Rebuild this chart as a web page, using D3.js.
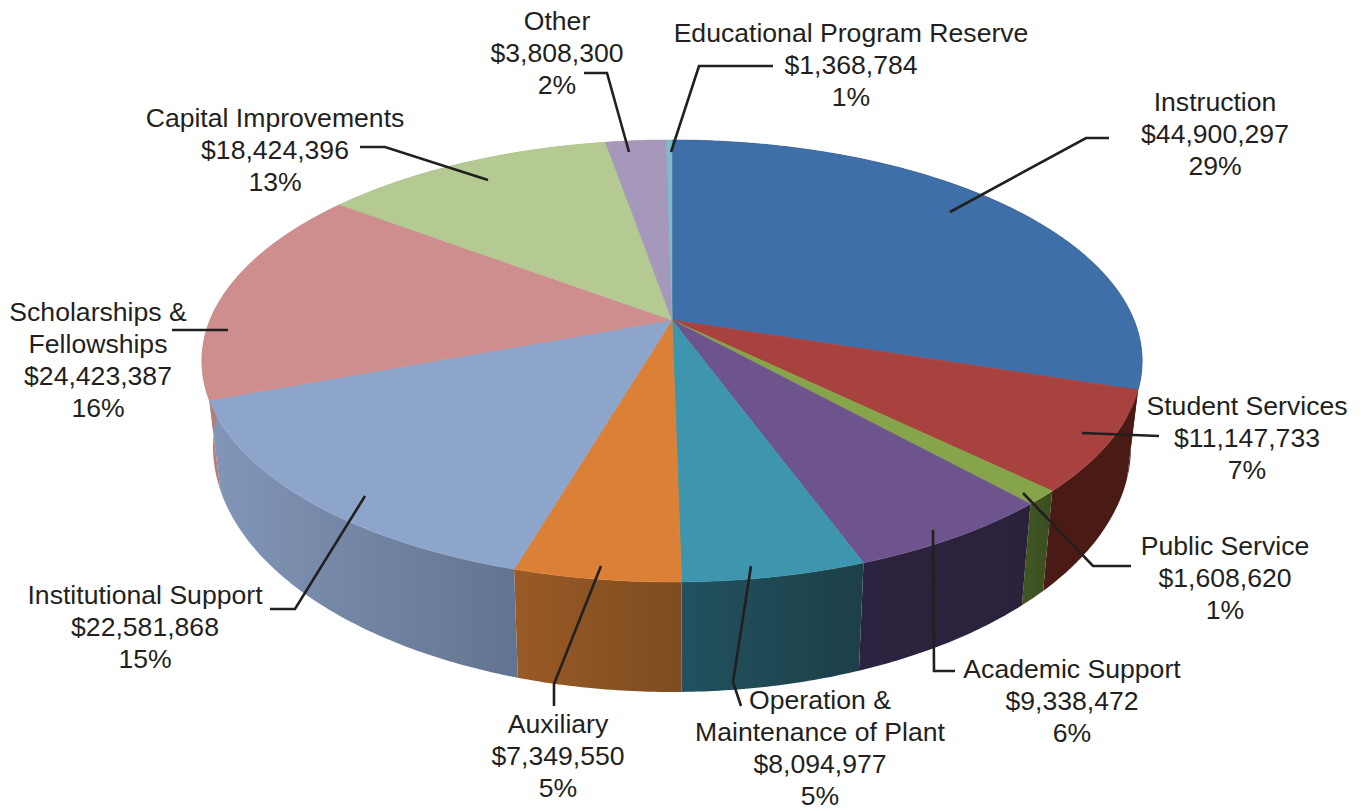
<!DOCTYPE html>
<html>
<head>
<meta charset="utf-8">
<script src="https://cdn.jsdelivr.net/npm/d3@7"></script>
<style>
  html, body { margin: 0; background: #fff; }
  text { font-family: "Liberation Sans", Arial, sans-serif; font-size: 26.6px; fill: #231f20; text-anchor: middle; }
</style>
</head>
<body>
<div id="chart"></div>
<script>
var names = ["Instruction", "Student Services", "Public Service", "Academic Support",
    "Operation & Maintenance of Plant", "Auxiliary", "Institutional Support",
    "Scholarships & Fellowships", "Capital Improvements", "Other", "Educational Program Reserve"]
var amounts = [44900297, 11147733, 1608620, 9338472, 8094977, 7349550, 22581868, 24423387, 18424396, 3808300, 1368784]
var percents = ["29%", "7%", "1%", "6%", "5%", "5%", "15%", "16%", "13%", "2%", "1%"]
// slice sizes as drawn in the picture: the reserve sliver is thinner than its label says
// and Instruction takes up the difference, the rest equal the labels
var drawnAmounts = [45920000, 11147733, 1608620, 9338472, 8094977, 7349550, 22581868, 24423387, 18424396, 3808300, 349000]

var topColors = ["#3f6fa8", "#a8423f", "#86a44a", "#6e548d", "#3d96ae", "#da8137", "#8ea5cb", "#ce8e8d", "#b5ca92", "#a598bb", "#7fb9cb"]
// Instruction's wall only peeks out past the Student Services wall, so it gets the same dark red
var sideLeft = ["#4a1a14", "#4a1a14", "#3f5522", "#2c2340", "#21525f", "#9a5a26", "#8296b8", "#b87a76", "#8a9a6f", "#7d7390", "#5f8c9a"]
var sideRight = ["#4a1a14", "#4a1a14", "#3a4d20", "#2a213a", "#1d3f49", "#7c4c20", "#62748f", "#b87a76", "#8a9a6f", "#7d7390", "#5f8c9a"]

// text lines and where each label goes, leader goes from the slice out to the label
var labelLines = [
    ["Instruction"], ["Student Services"], ["Public Service"], ["Academic Support"],
    ["Operation &", "Maintenance of Plant"], ["Auxiliary"], ["Institutional Support"],
    ["Scholarships &", "Fellowships"], ["Capital Improvements"], ["Other"], ["Educational Program Reserve"]
]
var labelPos = [[1215, 111], [1247, 415], [1225, 555], [1072, 678], [820, 709], [558, 733], [145, 604], [98, 321], [275, 127], [557, 30], [851, 42]]
var leaders = [
    [[950, 212], [1086, 138], [1109, 138]],
    [[1082, 433], [1159, 436]],
    [[1023, 493], [1093, 566], [1131, 566]],
    [[933, 530], [934, 671], [955, 671]],
    [[751, 566], [733, 682], [741, 706]],
    [[601, 566], [554, 684], [554, 706]],
    [[365, 496], [295, 609], [270, 609]],
    [[228, 330], [172, 330]],
    [[488, 180], [385, 147], [360, 147]],
    [[629, 152], [607, 73], [584, 73]],
    [[671, 152], [699, 66], [773, 66]]
]

var width = 1361
var height = 811
var cx = 672
var cy = 320
var persp = 0.1855   // how much nearer the front edge looks

// one ellipse for the top face and a smaller, lower one for the floor
var topFace = {x: cx, y: cy, rx: 462, ry: 213.4}
var floorFace = {x: cx, y: 401, rx: 451, ry: 237}

function project(face, a) {
    var c = Math.sin(a), s = -Math.cos(a), w = 1 - persp * s
    return [face.x + face.rx * c / w, face.y + face.ry * s / w]
}

function arcPoints(face, a0, a1) {
    var n = Math.max(2, Math.ceil((a1 - a0) / 0.01))
    return d3.range(n + 1).map(function(i) { return project(face, a0 + (a1 - a0) * i / n) })
}

var svg = d3.select("#chart").append("svg")
    .attr("width", width)
    .attr("height", height)
    .style("display", "block")

var slices = d3.pie().sort(null)(drawnAmounts)
var line = d3.line()
var defs = svg.append("defs")

// gradients for the side wall, one per slice
slices.forEach(function(d, i) {
    var pts = arcPoints(topFace, d.startAngle, d.endAngle)
    var g = defs.append("linearGradient")
        .attr("id", "side" + i)
        .attr("gradientUnits", "userSpaceOnUse")
        .attr("x1", d3.min(pts, p => p[0]))
        .attr("x2", d3.max(pts, p => p[0]))
        .attr("y1", 0)
        .attr("y2", 0)
    g.append("stop").attr("offset", 0).attr("stop-color", sideLeft[i])
    g.append("stop").attr("offset", 1).attr("stop-color", sideRight[i])
})

svg.append("g").selectAll("path")
    .data(slices)
    .enter().append("path")
    .attr("d", function(d) {
        var a = arcPoints(topFace, d.startAngle, d.endAngle)
        var b = arcPoints(floorFace, d.startAngle, d.endAngle).reverse()
        return line(a.concat(b)) + "Z"
    })
    .attr("fill", (d, i) => "url(#side" + i + ")")

svg.append("g").selectAll("path")
    .data(slices)
    .enter().append("path")
    .attr("d", function(d) {
        return line([[topFace.x, topFace.y]].concat(arcPoints(topFace, d.startAngle, d.endAngle))) + "Z"
    })
    .attr("fill", (d, i) => topColors[i])
    .attr("stroke", (d, i) => topColors[i])
    .attr("stroke-width", 0.6)

svg.append("g").selectAll("path")
    .data(leaders)
    .enter().append("path")
    .attr("d", d => line(d))
    .attr("fill", "none")
    .attr("stroke", "#231f20")
    .attr("stroke-width", 2.6)

var fmt = d3.format("$,")
var labels = svg.append("g").selectAll("text")
    .data(names)
    .enter().append("text")
    .attr("transform", (d, i) => "translate(" + labelPos[i] + ")")

labels.each(function(d, i) {
    var rows = labelLines[i].concat([fmt(amounts[i]), percents[i]])
    d3.select(this).selectAll("tspan")
        .data(rows)
        .enter().append("tspan")
        .attr("x", 0)
        .attr("y", (r, j) => j * 32)
        .text(r => r)
})
</script>
</body>
</html>
